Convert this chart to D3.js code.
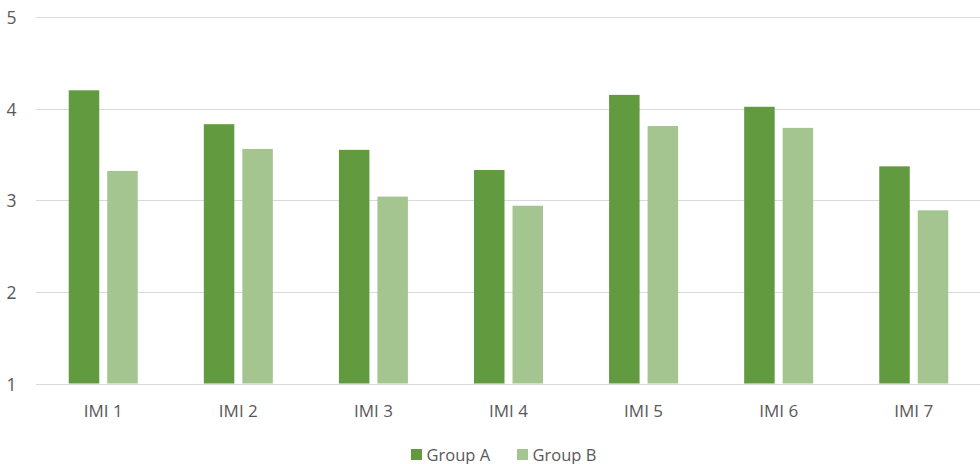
<!DOCTYPE html>
<html><head><meta charset="utf-8">
<script src="https://cdn.jsdelivr.net/npm/d3@7"></script>
<style>body{margin:0;background:#fff}svg{display:block}</style>
</head><body>
<svg id="c" width="980" height="464"></svg>
<script>
const categories = ["IMI 1","IMI 2","IMI 3","IMI 4","IMI 5","IMI 6","IMI 7"];
const groupA = [4.20,3.83,3.55,3.33,4.15,4.02,3.37];
const groupB = [3.32,3.56,3.04,2.94,3.81,3.79,2.89];
const seriesNames = ["Group A","Group B"];
const seriesColors = ["#629a3f","#a4c590"];
const yTicks = [1,2,3,4,5];

(function(){
const svg = d3.select("#c");
const pLeft = 35.7, pRight = 981.3, pTop = 17, pBottom = 383.5;
const font = "'Open Sans', sans-serif";
const textColor = "#595959";

const x = d3.scaleBand().domain(categories).range([pLeft, pRight]).paddingInner(0).paddingOuter(0);
const y = d3.scaleLinear().domain([1,5]).range([pBottom, pTop]);

svg.append("g").selectAll("line").data(yTicks).join("line")
  .attr("x1", 36).attr("x2", 980)
  .attr("y1", d => Math.round(y(d)) + 0.5).attr("y2", d => Math.round(y(d)) + 0.5)
  .attr("stroke", "#d9d9d9").attr("stroke-width", 1);

svg.append("g").selectAll("text").data(yTicks).join("text")
  .attr("x", 11.5).attr("y", d => y(d) + 7)
  .attr("text-anchor", "middle")
  .attr("font-family", font).attr("font-size", 17.5).attr("fill", textColor)
  .text(d => d);

const barW = 30.5, gap = 8;
const series = [groupA, groupB];
series.forEach((vals, si) => {
  svg.append("g").selectAll("rect").data(categories).join("rect")
    .attr("x", (c) => x(c) + x.bandwidth()/2 - barW - gap/2 + si*(barW+gap))
    .attr("width", barW)
    .attr("y", (c,i) => y(vals[i]))
    .attr("height", (c,i) => y(1) - y(vals[i]))
    .attr("fill", seriesColors[si]);
});

svg.append("g").selectAll("text").data(categories).join("text")
  .attr("x", c => x(c) + x.bandwidth()/2).attr("y", 417)
  .attr("text-anchor", "middle")
  .attr("font-family", font).attr("font-size", 17).attr("fill", textColor)
  .text(c => c);

const legendX = [411, 517];
seriesNames.forEach((n, i) => {
  const g = svg.append("g");
  g.append("rect").attr("x", legendX[i]).attr("y", 449).attr("width", 11).attr("height", 11)
    .attr("fill", seriesColors[i]);
  g.append("text").attr("x", legendX[i] + 15.5).attr("y", 460.5)
    .attr("font-family", font).attr("font-size", 16.5).attr("fill", textColor).text(n);
});
})();
</script>
</body></html>
